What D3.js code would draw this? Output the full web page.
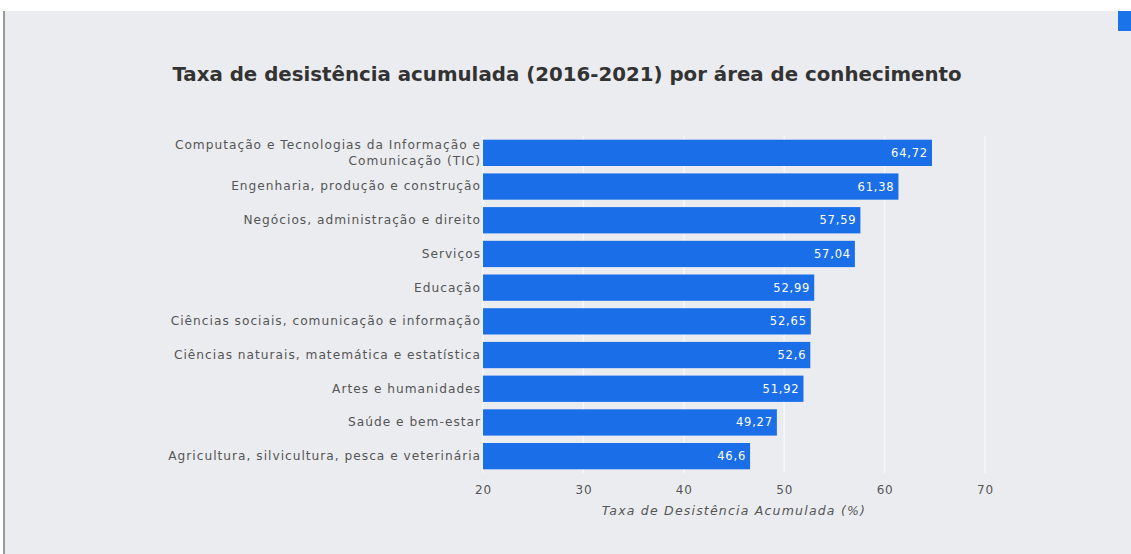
<!DOCTYPE html>
<meta charset="utf-8">
<style>
  body { margin: 0; background: #fff; }
  svg { display: block; font-family: "DejaVu Sans", sans-serif; }
</style>
<body>
<script src="https://cdn.jsdelivr.net/npm/d3@7"></script>
<script>

    var width = 1131,
        height = 554;

    // dados
    var areas = [
        "Computação e Tecnologias da Informação e Comunicação (TIC)",
        "Engenharia, produção e construção",
        "Negócios, administração e direito",
        "Serviços",
        "Educação",
        "Ciências sociais, comunicação e informação",
        "Ciências naturais, matemática e estatística",
        "Artes e humanidades",
        "Saúde e bem-estar",
        "Agricultura, silvicultura, pesca e veterinária"
    ];
    var taxas = [64.72, 61.38, 57.59, 57.04, 52.99, 52.65, 52.6, 51.92, 49.27, 46.6];
    var rotulos = ["64,72", "61,38", "57,59", "57,04", "52,99", "52,65", "52,6", "51,92", "49,27", "46,6"];
    var ticks = [20, 30, 40, 50, 60, 70];

    var svg = d3.select("body").append("svg")
            .attr("width", width)
            .attr("height", height);

    // fundo cinza
    svg.append("rect")
            .attr("x", 4).attr("y", 11)
            .attr("width", width - 4).attr("height", height - 11)
            .attr("fill", "#ebecf0");
    svg.append("rect")
            .attr("x", 3).attr("y", 11)
            .attr("width", 2).attr("height", height - 11)
            .attr("fill", "#9a9a9a");
    svg.append("rect")
            .attr("x", 1118).attr("y", 11)
            .attr("width", 13).attr("height", 20)
            .attr("fill", "#1a73e8");

    var x = d3.scaleLinear()
            .domain([20, 70])
            .range([483, 985]);

    var y = d3.scaleBand()
            .domain(areas)
            .range([136, 473])
            .paddingInner(0.22)
            .paddingOuter(0.11);

    // grade
    svg.append("g").selectAll("line")
            .data(ticks)
            .enter().append("line")
            .attr("x1", function(d) { return x(d); })
            .attr("x2", function(d) { return x(d); })
            .attr("y1", 136).attr("y2", 473)
            .attr("stroke", "#f6f7f9")
            .attr("stroke-width", 1.5);

    // titulo
    svg.append("text")
            .attr("x", 567).attr("y", 81)
            .attr("text-anchor", "middle")
            .attr("font-size", 19.8)
            .attr("font-weight", "bold")
            .attr("fill", "#333")
            .text("Taxa de desistência acumulada (2016-2021) por área de conhecimento");

    // barras
    svg.append("g").selectAll("rect")
            .data(taxas)
            .enter().append("rect")
            .attr("x", x(20))
            .attr("y", function(d, i) { return y(areas[i]); })
            .attr("width", function(d) { return x(d) - x(20); })
            .attr("height", y.bandwidth())
            .attr("fill", "#1a6ee8");

    svg.append("g").selectAll("text")
            .data(taxas)
            .enter().append("text")
            .attr("x", function(d) { return x(d) - 4; })
            .attr("y", function(d, i) { return y(areas[i]) + y.bandwidth() / 2; })
            .attr("dy", "0.35em")
            .attr("text-anchor", "end")
            .attr("font-size", 11.5)
            .attr("letter-spacing", 0.8)
            .attr("fill", "#fff")
            .text(function(d, i) { return rotulos[i]; });

    // eixo y (rotulos das categorias)
    var yAxis = svg.append("g")
            .attr("transform", "translate(" + x(20) + ",0)")
            .call(d3.axisLeft(y).tickSize(0).tickPadding(2));
    yAxis.select(".domain").remove();
    yAxis.selectAll("text")
            .attr("font-size", 12.2)
            .attr("letter-spacing", 1)
            .attr("font-family", "DejaVu Sans, sans-serif")
            .attr("fill", "#555")
            .each(function(d, i) {
                if (i === 0) {
                    var t = d3.select(this);
                    t.text(null);
                    t.append("tspan").attr("x", -2).attr("dy", "-0.3em").text("Computação e Tecnologias da Informação e");
                    t.append("tspan").attr("x", -2).attr("dy", "1.3em").text("Comunicação (TIC)");
                }
            });

    // eixo x
    var xAxis = svg.append("g")
            .attr("transform", "translate(0,478)")
            .call(d3.axisBottom(x).tickValues(ticks).tickSize(0).tickPadding(7));
    xAxis.select(".domain").remove();
    xAxis.selectAll("text")
            .attr("font-size", 12)
            .attr("letter-spacing", 0.8)
            .attr("font-family", "DejaVu Sans, sans-serif")
            .attr("fill", "#555");

    svg.append("text")
            .attr("x", 734).attr("y", 515)
            .attr("text-anchor", "middle")
            .attr("font-size", 12.5)
            .attr("letter-spacing", 1.2)
            .attr("font-style", "italic")
            .attr("fill", "#555")
            .text("Taxa de Desistência Acumulada (%)");

</script>
